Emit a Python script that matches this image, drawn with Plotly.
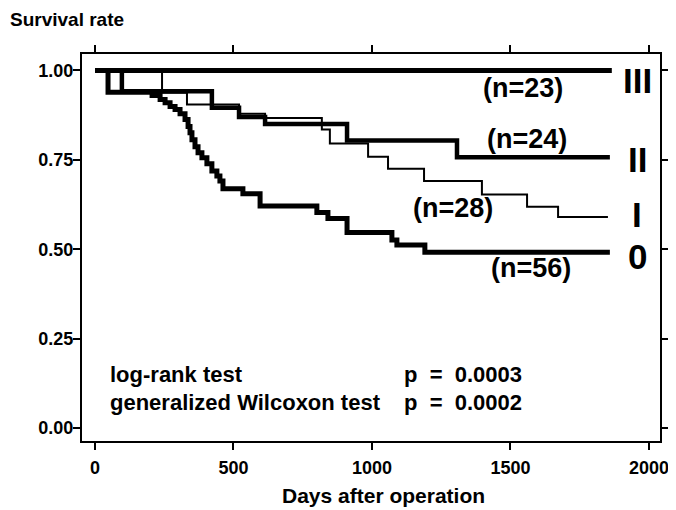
import plotly.graph_objects as go

# Kaplan-Meier step data (days, survival rate)
days_0 = [0, 47, 206, 235, 253, 271, 289, 307, 325, 336, 343, 350, 361, 372, 386, 404,
          422, 440, 451, 462, 534, 596, 801, 841, 910, 1072, 1090, 1191, 1859]
surv_0 = [1.0, 0.939, 0.930, 0.919, 0.910, 0.899, 0.891, 0.879, 0.863, 0.843, 0.826, 0.806,
          0.787, 0.770, 0.756, 0.739, 0.719, 0.705, 0.691, 0.669, 0.655, 0.621, 0.603, 0.586,
          0.547, 0.526, 0.512, 0.492, 0.492]

days_1 = [0, 242, 332, 520, 614, 819, 848, 986, 1058, 1188, 1397, 1560, 1672, 1852]
surv_1 = [1.0, 0.938, 0.905, 0.879, 0.867, 0.835, 0.796, 0.759, 0.725, 0.691, 0.653, 0.619,
          0.590, 0.590]

days_2 = [0, 97, 422, 520, 614, 910, 1307, 1859]
surv_2 = [1.0, 0.942, 0.896, 0.870, 0.850, 0.804, 0.757, 0.757]

days_3 = [0, 1866]
surv_3 = [1.0, 1.0]

stage_labels = ["0", "I", "II", "III"]
n_labels = ["(n=56)", "(n=28)", "(n=24)", "(n=23)"]
x_ticks = [0, 500, 1000, 1500, 2000]
y_ticks = [0.0, 0.25, 0.50, 0.75, 1.00]
y_tick_text = ["0.00", "0.25", "0.50", "0.75", "1.00"]

FONT = "Liberation Sans, Arial, sans-serif"

fig = go.Figure()
series = [(days_3, surv_3, 5), (days_2, surv_2, 4.5), (days_1, surv_1, 2), (days_0, surv_0, 5)]
for d, s, w in series:
    fig.add_trace(go.Scatter(x=d, y=s, mode="lines", line=dict(color="black", width=w, shape="hv"),
                             showlegend=False, hoverinfo="skip"))

ann = []
n_pos = [(1574, 0.448), (1292, 0.615), (1560, 0.808), (1545, 0.951)]
for (x, y), t in zip(n_pos, n_labels):
    ann.append(dict(x=x, y=y, xref="x", yref="y", text=t, showarrow=False,
                    font=dict(family=FONT, size=27, color="black", weight="bold")))
s_pos = [(1957, 0.481), (1957, 0.596), (1957, 0.752), (1957, 0.973)]
for (x, y), t in zip(s_pos, stage_labels):
    ann.append(dict(x=x, y=y, xref="x", yref="y", text=t, showarrow=False,
                    font=dict(family=FONT, size=35, color="black", weight="bold")))
tests = [("log-rank test", "p&nbsp; =&nbsp; 0.0003", 0.151),
         ("generalized Wilcoxon test", "p&nbsp; =&nbsp; 0.0002", 0.073)]
for name, p, y in tests:
    ann.append(dict(x=47, y=y, xref="x", yref="y", text=name, showarrow=False, xanchor="left",
                    font=dict(family=FONT, size=22, color="black", weight="bold")))
    ann.append(dict(x=1108, y=y, xref="x", yref="y", text=p, showarrow=False, xanchor="left",
                    font=dict(family=FONT, size=22, color="black", weight="bold")))
ann.append(dict(x=-0.128, y=1.088, xref="paper", yref="paper", text="Survival rate", showarrow=False,
                xanchor="left", yanchor="middle",
                font=dict(family=FONT, size=19, color="black", weight="bold")))
ann.append(dict(x=0.521, y=-0.14, xref="paper", yref="paper", text="Days after operation", showarrow=False,
                xanchor="center", yanchor="middle",
                font=dict(family=FONT, size=21, color="black", weight="bold")))

fig.update_layout(
    width=668, height=502,
    margin=dict(l=74, r=16, t=46, b=69),
    paper_bgcolor="white", plot_bgcolor="white",
    annotations=ann,
    xaxis=dict(range=[-47, 2040], tickvals=x_ticks, ticks="outside", ticklen=7, tickwidth=2,
               tickcolor="black", showline=True, linecolor="black", linewidth=2, mirror="ticks",
               showgrid=False, zeroline=False, automargin=False, ticklabelstandoff=2,
               tickfont=dict(family=FONT, size=18, color="black", weight="bold")),
    yaxis=dict(range=[-0.036, 1.046], tickvals=y_ticks, ticktext=y_tick_text, ticks="outside",
               ticklen=7, tickwidth=2, tickcolor="black", showline=True, linecolor="black",
               linewidth=2, mirror="ticks", showgrid=False, zeroline=False, automargin=False,
               ticklabelstandoff=-4,
               tickfont=dict(family=FONT, size=18, color="black", weight="bold")),
)

fig.write_html("out.html")
